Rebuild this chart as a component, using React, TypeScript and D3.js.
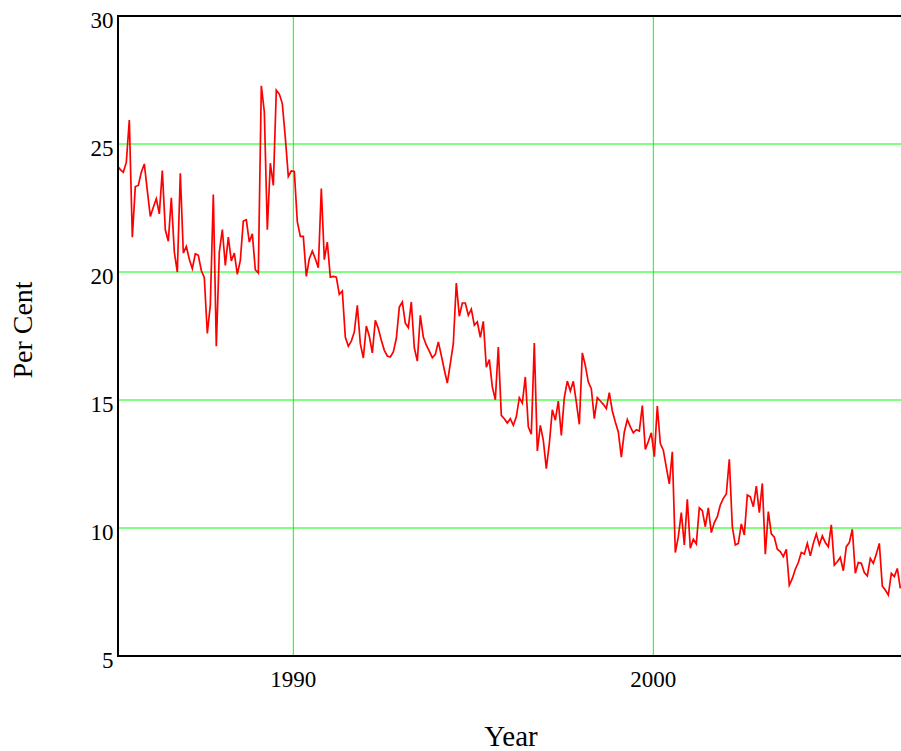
import React, { useEffect, useRef } from 'react';
import * as d3 from 'd3';

// monthly series, first point just left of the plot (clipped)
const startYear = 1985.111;
const perCent = [
  24.15, 24.0, 23.9, 24.29, 25.94, 21.36, 23.34, 23.38, 23.9, 24.22,
  23.18, 22.17, 22.53, 22.86, 22.27, 23.96, 21.65, 21.2, 22.9, 20.78,
  20.0, 23.86, 20.74, 21.0, 20.5, 20.13, 20.71, 20.65, 20.06, 19.78,
  17.6, 18.7, 23.03, 17.1, 20.78, 21.66, 20.26, 21.36, 20.43, 20.74,
  19.91, 20.45, 21.99, 22.04, 21.17, 21.49, 20.09, 19.96, 27.27, 26.26,
  21.65, 24.25, 23.38, 27.1, 26.95, 26.58, 25.25, 23.73, 23.95, 23.93,
  21.97, 21.39, 21.39, 19.83, 20.52, 20.82, 20.52, 20.17, 23.26, 20.48,
  21.17, 19.8, 19.83, 19.8, 19.13, 19.26, 17.46, 17.1, 17.3, 17.66,
  18.7, 17.2, 16.64, 17.89, 17.49, 16.84, 18.11, 17.79, 17.33, 16.94,
  16.72, 16.68, 16.88, 17.4, 18.63, 18.83, 18.0, 17.83, 18.83, 17.04,
  16.52, 18.31, 17.46, 17.14, 16.91, 16.65, 16.78, 17.27, 16.74, 16.18,
  15.66, 16.42, 17.2, 19.57, 18.27, 18.79, 18.79, 18.31, 18.55, 17.92,
  18.05, 17.45, 18.07, 16.28, 16.58, 15.51, 15.01, 17.07, 14.4, 14.27,
  14.1, 14.27, 14.01, 14.34, 15.09, 14.88, 15.9, 13.95, 13.66, 17.23,
  13.01, 14.01, 13.42, 12.32, 13.29, 14.62, 14.21, 14.96, 13.62, 15.09,
  15.74, 15.35, 15.73, 14.92, 14.05, 16.84, 16.35, 15.7, 15.44, 14.27,
  15.09, 14.96, 14.83, 14.66, 15.29, 14.57, 14.14, 13.75, 12.77, 13.75,
  14.24, 13.95, 13.72, 13.84, 13.79, 14.78, 13.07, 13.38, 13.72, 12.79,
  14.76, 13.3, 13.04, 12.37, 11.72, 12.98, 9.04, 9.66, 10.6, 9.34,
  11.12, 9.21, 9.56, 9.38, 10.79, 10.68, 10.05, 10.79, 9.82, 10.21,
  10.44, 10.9, 11.16, 11.33, 12.68, 10.05, 9.34, 9.4, 10.16, 9.73,
  11.29, 11.22, 10.83, 11.64, 10.6, 11.74, 8.98, 10.64, 9.77, 9.64,
  9.17, 9.08, 8.88, 9.17, 7.77, 8.03, 8.39, 8.65, 9.04, 8.98,
  9.4, 8.91, 9.4, 9.77, 9.34, 9.69, 9.43, 9.27, 10.12, 8.55,
  8.68, 8.85, 8.33, 9.27, 9.43, 9.95, 8.23, 8.65, 8.62, 8.26,
  8.13, 8.81, 8.62, 8.98, 9.4, 7.73, 7.58, 7.38, 8.23, 8.1,
  8.42, 7.64,
];
const yTicks = [5, 10, 15, 20, 25, 30];
const xTicks = [1990, 2000];

const width = 901;
const height = 751;
const margin = { top: 16, right: 0, bottom: 95, left: 118 };

export default function App() {
  const ref = useRef<SVGSVGElement>(null);

  useEffect(() => {
    const svg = d3.select(ref.current);
    svg.selectAll('*').remove();

    const x = d3
      .scaleLinear()
      .domain([1985.13, 2006.88])
      .range([margin.left, width - margin.right]);
    const y = d3
      .scaleLinear()
      .domain([5, 30])
      .range([height - margin.bottom, margin.top]);

    const data = perCent.map((v, i) => ({ date: startYear + i / 12, value: v }));
    const font = '"Liberation Serif", "Times New Roman", serif';

    svg
      .append('defs')
      .append('clipPath')
      .attr('id', 'plot')
      .append('rect')
      .attr('x', margin.left)
      .attr('y', margin.top)
      .attr('width', width - margin.left - margin.right)
      .attr('height', height - margin.top - margin.bottom);

    // grid
    svg
      .append('g')
      .selectAll('line')
      .data(yTicks.slice(1, -1))
      .join('line')
      .attr('x1', margin.left)
      .attr('x2', width)
      .attr('y1', (d) => y(d))
      .attr('y2', (d) => y(d))
      .attr('stroke', '#00ff00')
      .attr('stroke-width', 1);
    svg
      .append('g')
      .selectAll('line')
      .data(xTicks)
      .join('line')
      .attr('x1', (d) => x(d))
      .attr('x2', (d) => x(d))
      .attr('y1', margin.top)
      .attr('y2', height - margin.bottom)
      .attr('stroke', '#00ff00')
      .attr('stroke-width', 1);

    const line = d3
      .line<{ date: number; value: number }>()
      .x((d) => x(d.date))
      .y((d) => y(d.value));

    svg
      .append('path')
      .datum(data)
      .attr('clip-path', 'url(#plot)')
      .attr('fill', 'none')
      .attr('stroke', '#ff0000')
      .attr('stroke-width', 1.7)
      .attr('stroke-linejoin', 'miter')
      .attr('d', line);

    // frame: left, bottom, top
    const frame = svg.append('g').attr('stroke', '#000').attr('stroke-width', 2);
    frame
      .append('line')
      .attr('x1', margin.left)
      .attr('x2', margin.left)
      .attr('y1', margin.top - 1)
      .attr('y2', height - margin.bottom + 1);
    frame
      .append('line')
      .attr('x1', margin.left)
      .attr('x2', width)
      .attr('y1', height - margin.bottom)
      .attr('y2', height - margin.bottom);
    frame
      .append('line')
      .attr('x1', margin.left)
      .attr('x2', width)
      .attr('y1', margin.top)
      .attr('y2', margin.top);

    svg
      .append('g')
      .selectAll('text')
      .data(yTicks)
      .join('text')
      .attr('x', margin.left - 4.5)
      .attr('y', (d) => y(d) + 12)
      .attr('text-anchor', 'end')
      .attr('font-family', font)
      .attr('font-size', 23)
      .text((d) => d);

    svg
      .append('g')
      .selectAll('text')
      .data(xTicks)
      .join('text')
      .attr('x', (d) => x(d))
      .attr('y', height - margin.bottom + 31)
      .attr('text-anchor', 'middle')
      .attr('font-family', font)
      .attr('font-size', 23)
      .text((d) => d);

    svg
      .append('text')
      .attr('x', 511)
      .attr('y', 746)
      .attr('text-anchor', 'middle')
      .attr('font-family', font)
      .attr('font-size', 29)
      .text('Year');

    svg
      .append('text')
      .attr('transform', 'translate(32,330) rotate(-90)')
      .attr('text-anchor', 'middle')
      .attr('font-family', font)
      .attr('font-size', 28)
      .text('Per Cent');
  }, []);

  return (
    <svg
      ref={ref}
      width={width}
      height={height}
      style={{ position: 'absolute', left: 0, top: 0, background: '#fff' }}
    />
  );
}
